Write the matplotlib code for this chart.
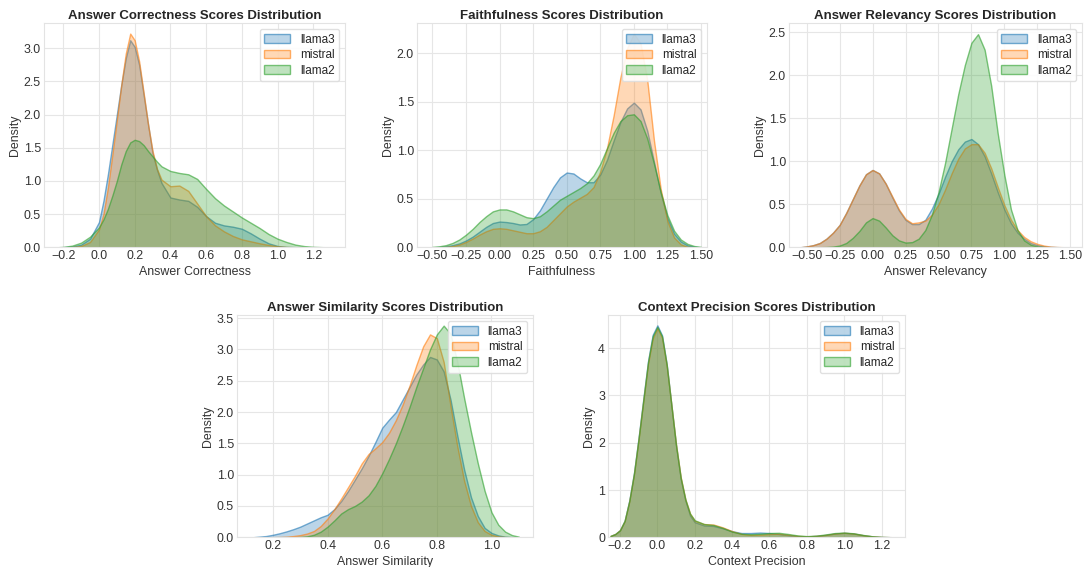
import matplotlib
matplotlib.use("Agg")
import matplotlib.pyplot as plt
import seaborn as sns
from matplotlib.colors import to_rgba
from matplotlib.ticker import MultipleLocator

sns.set_style("whitegrid")
plt.rcParams['font.family'] = ['Liberation Sans', 'DejaVu Sans']

models = ["llama3", "mistral", "llama2"]
colors = ["#1f77b4", "#ff7f0e", "#2ca02c"]

# ---------- Answer Correctness ----------
ac_x = [-0.225, -0.2, -0.15, -0.1, -0.05, 0.0, 0.025, 0.05, 0.075, 0.1, 0.125, 0.15, 0.175,
        0.2, 0.225, 0.25, 0.275, 0.3, 0.325, 0.35, 0.4, 0.45, 0.5, 0.55, 0.6, 0.65, 0.7,
        0.75, 0.8, 0.85, 0.9, 0.95, 1.0, 1.05, 1.1, 1.15, 1.2, 1.25, 1.3]
ac_llama3 = [0.0, 0.002, 0.01, 0.04, 0.13, 0.38, 0.7, 1.1, 1.55, 2.0, 2.45, 2.85, 3.12,
             3.02, 2.75, 2.3, 1.85, 1.42, 1.17, 0.97, 0.75, 0.72, 0.7, 0.61, 0.47, 0.37, 0.33,
             0.31, 0.28, 0.21, 0.13, 0.06, 0.02, 0.006, 0.002, 0.0, 0.0, 0.0, 0.0]
ac_mistral = [0.0, 0.0, 0.004, 0.02, 0.08, 0.27, 0.5, 0.9, 1.4, 1.92, 2.45, 2.92, 3.22,
              3.12, 2.8, 2.33, 1.85, 1.45, 1.18, 1.02, 0.92, 0.93, 0.85, 0.66, 0.47, 0.33, 0.24,
              0.17, 0.12, 0.09, 0.06, 0.035, 0.015, 0.005, 0.001, 0.0, 0.0, 0.0, 0.0]
ac_llama2 = [0.002, 0.006, 0.025, 0.07, 0.16, 0.3, 0.42, 0.58, 0.78, 1.0, 1.25, 1.45, 1.58,
             1.62, 1.6, 1.54, 1.45, 1.37, 1.29, 1.22, 1.15, 1.12, 1.1, 1.03, 0.88, 0.74, 0.63,
             0.54, 0.45, 0.37, 0.29, 0.2, 0.13, 0.08, 0.04, 0.018, 0.007, 0.002, 0.0]

# ---------- Faithfulness ----------
fa_x = [-0.5, -0.45, -0.4, -0.35, -0.3, -0.25, -0.2, -0.15, -0.1, -0.05, 0.0, 0.05, 0.1, 0.15,
        0.2, 0.25, 0.3, 0.35, 0.4, 0.45, 0.5, 0.55, 0.6, 0.65, 0.7, 0.75, 0.8, 0.85, 0.9, 0.95,
        1.0, 1.05, 1.1, 1.15, 1.2, 1.25, 1.3, 1.35, 1.4, 1.45, 1.5]
fa_llama3 = [0.0, 0.003, 0.01, 0.022, 0.04, 0.07, 0.11, 0.16, 0.21, 0.25, 0.265, 0.26, 0.25, 0.235,
             0.24, 0.29, 0.38, 0.5, 0.62, 0.72, 0.77, 0.76, 0.71, 0.67, 0.67, 0.75, 0.9, 1.1, 1.29, 1.43,
             1.49, 1.42, 1.2, 0.88, 0.56, 0.3, 0.14, 0.06, 0.02, 0.006, 0.0]
fa_mistral = [0.0, 0.001, 0.004, 0.012, 0.028, 0.055, 0.09, 0.13, 0.165, 0.19, 0.196, 0.19, 0.175, 0.16,
              0.145, 0.145, 0.165, 0.21, 0.28, 0.35, 0.42, 0.47, 0.51, 0.55, 0.62, 0.78, 1.02, 1.36, 1.75, 2.05,
              2.2, 2.1, 1.72, 1.1, 0.6, 0.27, 0.1, 0.03, 0.005, 0.0, 0.0]
fa_llama2 = [0.004, 0.01, 0.022, 0.045, 0.08, 0.13, 0.19, 0.26, 0.32, 0.37, 0.39, 0.39, 0.37, 0.34,
             0.31, 0.3, 0.32, 0.37, 0.43, 0.49, 0.53, 0.57, 0.61, 0.66, 0.74, 0.86, 1.02, 1.18, 1.3, 1.36,
             1.37, 1.3, 1.12, 0.86, 0.57, 0.33, 0.17, 0.08, 0.035, 0.013, 0.004]

# ---------- Answer Relevancy ----------
ar_x = [-0.55, -0.5, -0.45, -0.4, -0.35, -0.3, -0.25, -0.2, -0.15, -0.1, -0.05, 0.0, 0.05, 0.1,
        0.15, 0.2, 0.25, 0.3, 0.35, 0.4, 0.45, 0.5, 0.55, 0.6, 0.65, 0.7, 0.75, 0.8, 0.85, 0.9,
        0.95, 1.0, 1.05, 1.1, 1.15, 1.2, 1.25, 1.3, 1.35, 1.4, 1.45]
ar_llama3 = [0.0, 0.01, 0.025, 0.05, 0.1, 0.17, 0.26, 0.4, 0.56, 0.72, 0.85, 0.9, 0.86, 0.74,
             0.58, 0.43, 0.32, 0.27, 0.27, 0.32, 0.45, 0.62, 0.82, 1.0, 1.14, 1.23, 1.26, 1.2, 1.06, 0.86,
             0.64, 0.44, 0.28, 0.17, 0.1, 0.05, 0.025, 0.012, 0.005, 0.002, 0.0]
ar_mistral = [0.0, 0.01, 0.025, 0.05, 0.1, 0.17, 0.26, 0.4, 0.56, 0.72, 0.85, 0.9, 0.86, 0.74,
              0.59, 0.44, 0.33, 0.28, 0.29, 0.31, 0.38, 0.5, 0.67, 0.86, 1.03, 1.15, 1.2, 1.2, 1.1, 0.92,
              0.7, 0.49, 0.32, 0.2, 0.12, 0.07, 0.04, 0.02, 0.008, 0.003, 0.001]
ar_llama2 = [0.0, 0.0, 0.0, 0.001, 0.003, 0.008, 0.02, 0.05, 0.11, 0.19, 0.29, 0.34, 0.31, 0.23,
             0.14, 0.08, 0.055, 0.06, 0.1, 0.2, 0.38, 0.64, 0.98, 1.38, 1.78, 2.12, 2.38, 2.48, 2.3, 1.88,
             1.32, 0.84, 0.44, 0.2, 0.08, 0.03, 0.01, 0.003, 0.0, 0.0, 0.0]

# ---------- Answer Similarity ----------
as_x = [0.125, 0.15, 0.175, 0.2, 0.225, 0.25, 0.275, 0.3, 0.325, 0.35, 0.375, 0.4, 0.425, 0.45,
        0.475, 0.5, 0.525, 0.55, 0.575, 0.6, 0.625, 0.65, 0.675, 0.7, 0.725, 0.75, 0.775, 0.8,
        0.825, 0.85, 0.875, 0.9, 0.925, 0.95, 0.975, 1.0, 1.025, 1.05, 1.075, 1.1]
as_llama3 = [0.0, 0.01, 0.02, 0.04, 0.065, 0.095, 0.13, 0.17, 0.22, 0.27, 0.32, 0.36, 0.45, 0.58,
             0.74, 0.92, 1.1, 1.3, 1.52, 1.75, 1.88, 2.0, 2.2, 2.4, 2.6, 2.76, 2.88, 2.84,
             2.65, 2.2, 1.62, 1.08, 0.64, 0.34, 0.15, 0.07, 0.03, 0.01, 0.003, 0.0]
as_mistral = [0.0, 0.0, 0.0, 0.002, 0.005, 0.01, 0.02, 0.035, 0.06, 0.1, 0.18, 0.3, 0.45, 0.62,
              0.8, 0.98, 1.18, 1.33, 1.42, 1.52, 1.67, 1.87, 2.12, 2.42, 2.75, 3.05, 3.24, 3.18,
              2.8, 2.1, 1.45, 0.9, 0.5, 0.24, 0.1, 0.04, 0.015, 0.005, 0.001, 0.0]
as_llama2 = [0.0, 0.0, 0.0, 0.0, 0.0, 0.0, 0.0, 0.005, 0.015, 0.04, 0.09, 0.17, 0.27, 0.38,
             0.45, 0.5, 0.57, 0.67, 0.82, 1.02, 1.25, 1.5, 1.78, 2.08, 2.4, 2.7, 3.0, 3.24,
             3.38, 3.25, 2.8, 2.22, 1.68, 1.18, 0.74, 0.4, 0.2, 0.09, 0.035, 0.01]

# ---------- Context Precision ----------
cp_x = [-0.25, -0.225, -0.2, -0.175, -0.15, -0.125, -0.1, -0.075, -0.05, -0.025, 0.0, 0.025, 0.05,
        0.075, 0.1, 0.125, 0.15, 0.175, 0.2, 0.25, 0.3, 0.35, 0.4, 0.45, 0.5, 0.55, 0.6, 0.65,
        0.7, 0.75, 0.8, 0.85, 0.9, 0.95, 1.0, 1.05, 1.1, 1.15, 1.2, 1.25]
cp_llama3 = [0.03, 0.07, 0.15, 0.35, 0.78, 1.36, 2.12, 2.93, 3.72, 4.28, 4.48, 4.27, 3.66,
             2.8, 1.94, 1.24, 0.78, 0.46, 0.32, 0.25, 0.24, 0.19, 0.13, 0.09, 0.09, 0.1, 0.09, 0.07,
             0.045, 0.025, 0.018, 0.03, 0.05, 0.08, 0.095, 0.08, 0.045, 0.02, 0.007, 0.002]
cp_mistral = [0.03, 0.07, 0.15, 0.34, 0.76, 1.33, 2.08, 2.88, 3.66, 4.2, 4.42, 4.22, 3.63,
              2.8, 1.96, 1.27, 0.8, 0.5, 0.35, 0.28, 0.27, 0.21, 0.13, 0.07, 0.05, 0.055, 0.07, 0.075,
              0.055, 0.03, 0.02, 0.03, 0.05, 0.08, 0.095, 0.08, 0.045, 0.02, 0.007, 0.002]
cp_llama2 = [0.03, 0.07, 0.15, 0.35, 0.77, 1.35, 2.1, 2.9, 3.7, 4.25, 4.45, 4.25, 3.65,
             2.8, 1.95, 1.26, 0.8, 0.5, 0.36, 0.28, 0.26, 0.2, 0.12, 0.075, 0.065, 0.075, 0.09, 0.095,
             0.07, 0.04, 0.025, 0.035, 0.06, 0.09, 0.1, 0.085, 0.05, 0.022, 0.008, 0.002]

panels = [
    ("Answer Correctness", ac_x, [ac_llama3, ac_mistral, ac_llama2]),
    ("Faithfulness", fa_x, [fa_llama3, fa_mistral, fa_llama2]),
    ("Answer Relevancy", ar_x, [ar_llama3, ar_mistral, ar_llama2]),
    ("Answer Similarity", as_x, [as_llama3, as_mistral, as_llama2]),
    ("Context Precision", cp_x, [cp_llama3, cp_mistral, cp_llama2]),
]

W, H = 1088, 567
fig = plt.figure(figsize=(W / 100, H / 100), dpi=100)

def rect(l, r, t, b):
    return [l / W, 1 - b / H, (r - l) / W, (b - t) / H]

boxes = [rect(44, 345, 23, 247.3), rect(417, 707, 23, 247.3), rect(789, 1082, 23, 247.3),
         rect(237, 533, 315, 537.3), rect(608, 905, 315, 537.3)]
xlims = [(-0.308, 1.378), (-0.615, 1.545), (-0.634, 1.589), (0.0685, 1.152), (-0.264, 1.325)]
ylims = [3.38, 2.31, 2.61, 3.55, 4.70]
xsteps = [0.2, 0.25, 0.25, 0.2, 0.2]
ysteps = [0.5, 0.5, 0.5, 0.5, 1.0]

for (name, xs, series), box, xl, yt, xst, yst in zip(panels, boxes, xlims, ylims, xsteps, ysteps):
    ax = fig.add_axes(box)
    for lab, ys, c in zip(models, series, colors):
        ax.fill_between(xs, ys, 0, facecolor=to_rgba(c, 0.3), edgecolor=to_rgba(c, 0.6),
                        linewidth=1.0, label=lab)
    ax.set_xlim(*xl)
    ax.set_ylim(0, yt)
    ax.xaxis.set_major_locator(MultipleLocator(xst))
    ax.yaxis.set_major_locator(MultipleLocator(yst))
    ax.set_title(f"{name} Scores Distribution", fontsize=9.5, fontweight="bold",
                 color="#262626", pad=3)
    ax.set_xlabel(name, fontsize=8.9, color="#333333", labelpad=2.5)
    ax.set_ylabel("Density", fontsize=8.9, color="#333333", labelpad=2)
    ax.tick_params(labelsize=8.9, colors="#333333", pad=2.2, length=0)
    ax.grid(True, color="#e6e6e6", linewidth=0.8)
    for sp in ax.spines.values():
        sp.set_color("#e3e3e3")
        sp.set_linewidth(0.8)
    ax.legend(loc="upper right", fontsize=8.5, handlelength=2.2, handleheight=0.7,
              borderpad=0.4, labelspacing=0.3, handletextpad=0.8, framealpha=0.9,
              edgecolor="#dddddd")

fig.savefig("out.png", dpi=100)
